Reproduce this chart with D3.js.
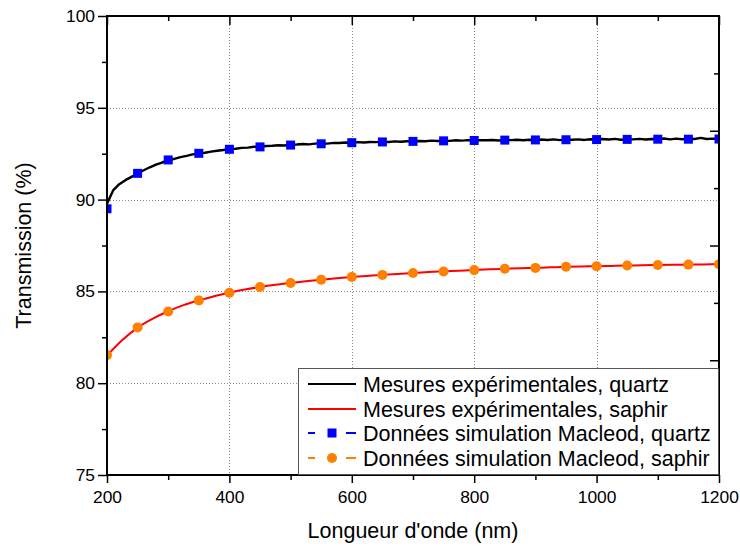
<!DOCTYPE html>
<html><head><meta charset="utf-8">
<script src="https://cdn.jsdelivr.net/npm/d3@7"></script>
<style>
html,body{margin:0;padding:0;background:#fff;}
svg{display:block;font-family:Arial,"Liberation Sans",sans-serif;}
</style></head>
<body>
<svg id="chart" width="740" height="549"></svg>
<script>
// ---- data ----
const xTicks = [200, 400, 600, 800, 1000, 1200];
const yTicks = [75, 80, 85, 90, 95, 100];
const legendLabels = [
  "Mesures expérimentales, quartz",
  "Mesures expérimentales, saphir",
  "Données simulation Macleod, quartz",
  "Données simulation Macleod, saphir"
];
// measured quartz (every 10 nm from 200 to 1200)
const quartzExpX = d3.range(200, 1201, 10);
const quartzExpY = [
  89.78, 90.50, 90.84, 91.06, 91.24, 91.42, 91.60, 91.76, 91.90, 92.02,
  92.13, 92.22, 92.31, 92.38, 92.46, 92.52, 92.55, 92.61, 92.66, 92.70,
  92.76, 92.77, 92.82, 92.83, 92.88, 92.88, 92.92, 92.93, 92.96, 92.95,
  92.99, 93.00, 93.03, 93.01, 93.05, 93.06, 93.05, 93.09, 93.08, 93.11,
  93.10, 93.13, 93.11, 93.14, 93.13, 93.16, 93.14, 93.17, 93.15, 93.18,
  93.17, 93.19, 93.18, 93.21, 93.19, 93.21, 93.20, 93.23, 93.21, 93.24,
  93.22, 93.24, 93.23, 93.25, 93.22, 93.25, 93.24, 93.26, 93.23, 93.26,
  93.24, 93.27, 93.25, 93.28, 93.24, 93.27, 93.26, 93.28, 93.25, 93.29,
  93.27, 93.30, 93.27, 93.31, 93.26, 93.29, 93.28, 93.31, 93.27, 93.30,
  93.29, 93.33, 93.28, 93.32, 93.29, 93.31, 93.30, 93.36, 93.30, 93.32,
  93.31
];
// measured sapphire (every 25 nm)
const saphirExpX = d3.range(200, 1201, 25);
const saphirExpY = [
  81.50, 82.35, 83.03, 83.52, 83.92, 84.25, 84.51, 84.74, 84.93, 85.10,
  85.24, 85.36, 85.46, 85.55, 85.63, 85.71, 85.78, 85.84, 85.90, 85.95,
  86.00, 86.05, 86.09, 86.13, 86.17, 86.20, 86.23, 86.26, 86.28, 86.31,
  86.34, 86.36, 86.37, 86.39, 86.41, 86.43, 86.44, 86.45, 86.46, 86.47,
  86.49
];
// Macleod simulations (every 50 nm)
const simX = d3.range(200, 1201, 50);
const quartzSimY = [
  89.50, 91.43, 92.16, 92.52, 92.74, 92.87, 92.97, 93.04, 93.10, 93.14,
  93.17, 93.20, 93.22, 93.24, 93.25, 93.26, 93.27, 93.28, 93.29, 93.29, 93.30
];
const saphirSimY = [
  81.53, 83.04, 83.91, 84.51, 84.93, 85.24, 85.46, 85.64, 85.79, 85.90,
  86.00, 86.08, 86.16, 86.23, 86.28, 86.34, 86.37, 86.41, 86.44, 86.46, 86.48
];

// ---- layout ----
const L = 107, R = 719, T = 16, B = 475;
const svg = d3.select("#chart");
const x = d3.scaleLinear().domain([200, 1200]).range([L, R]);
const y = d3.scaleLinear().domain([75, 100]).range([B, T]);
const yRight = d3.scaleLinear().domain([0, 4]).range([B, T]);

const xMinor = d3.range(300, 1200, 200);
const yMinor = d3.range(77.5, 100, 5);

// grid
const grid = svg.append("g").attr("stroke", "#8a8a8a").attr("stroke-width", 1).attr("stroke-dasharray", "1,2");
grid.selectAll("line.v").data(xTicks.slice(1, -1)).join("line")
  .attr("x1", d => Math.round(x(d)) + 0.5).attr("x2", d => Math.round(x(d)) + 0.5)
  .attr("y1", T).attr("y2", B);
grid.selectAll("line.h").data(yTicks.slice(1, -1)).join("line")
  .attr("y1", d => Math.round(y(d)) + 0.5).attr("y2", d => Math.round(y(d)) + 0.5)
  .attr("x1", L).attr("x2", R);

// curves
svg.append("defs").append("clipPath").attr("id", "clip")
  .append("rect").attr("x", L).attr("y", T).attr("width", R - L).attr("height", B - T);
const plot = svg.append("g").attr("clip-path", "url(#clip)");

plot.append("path").datum(saphirExpX.map((v, i) => [v, saphirExpY[i]]))
  .attr("d", d3.line().x(d => x(d[0])).y(d => y(d[1])).curve(d3.curveMonotoneX)).attr("fill", "none")
  .attr("stroke", "#ff0000").attr("stroke-width", 2);
plot.append("path").datum(quartzExpX.map((v, i) => [v, quartzExpY[i]]))
  .attr("d", d3.line().x(d => x(d[0])).y(d => y(d[1]))).attr("fill", "none")
  .attr("stroke", "#000").attr("stroke-width", 2.4).attr("stroke-linejoin", "round");

const sq = 9;
plot.selectAll("rect.qs").data(simX.map((v, i) => [v, quartzSimY[i]])).join("rect")
  .attr("x", d => x(d[0]) - sq / 2).attr("y", d => y(d[1]) - sq / 2)
  .attr("width", sq).attr("height", sq).attr("fill", "#0000ff");
plot.selectAll("circle.ss").data(simX.map((v, i) => [v, saphirSimY[i]])).join("circle")
  .attr("cx", d => x(d[0])).attr("cy", d => y(d[1])).attr("r", 5)
  .attr("fill", "#ff8000");

// axes
const axStyle = g => { g.select(".domain").remove(); g.selectAll("line").attr("stroke", "#000").attr("stroke-width", 1.5); };
const fontTick = "17.4px";

svg.append("g").attr("transform", `translate(0,${B})`)
  .call(d3.axisBottom(x).tickValues(xTicks).tickSize(8).tickPadding(8).tickFormat(d3.format("d")))
  .call(axStyle)
  .call(g => g.selectAll("text").attr("font-size", fontTick).attr("font-family", "Arial, 'Liberation Sans', sans-serif").attr("fill", "#000"));
svg.append("g").attr("transform", `translate(0,${B})`)
  .call(d3.axisBottom(x).tickValues(xMinor).tickSize(5).tickFormat(""))
  .call(axStyle);
svg.append("g").attr("transform", `translate(0,${T})`)
  .call(d3.axisBottom(x).tickValues(xTicks).tickSize(9).tickFormat(""))
  .call(axStyle);
svg.append("g").attr("transform", `translate(0,${T})`)
  .call(d3.axisBottom(x).tickValues(xMinor).tickSize(5).tickFormat(""))
  .call(axStyle);

svg.append("g").attr("transform", `translate(${L},0)`)
  .call(d3.axisLeft(y).tickValues(yTicks).tickSize(9).tickPadding(3).tickFormat(d3.format("d")))
  .call(axStyle)
  .call(g => g.selectAll("text").attr("font-size", fontTick).attr("font-family", "Arial, 'Liberation Sans', sans-serif").attr("fill", "#000"));
svg.append("g").attr("transform", `translate(${L},0)`)
  .call(d3.axisLeft(y).tickValues(yMinor).tickSize(5).tickFormat(""))
  .call(axStyle);

svg.append("g").attr("transform", `translate(${R},0)`)
  .call(d3.axisLeft(yRight).tickValues([1, 2, 3]).tickSize(9).tickFormat(""))
  .call(axStyle);
svg.append("g").attr("transform", `translate(${R},0)`)
  .call(d3.axisLeft(yRight).tickValues([0.5, 1.5, 2.5, 3.5]).tickSize(5).tickFormat(""))
  .call(axStyle);

// frame
svg.append("rect").attr("x", L).attr("y", T).attr("width", R - L).attr("height", B - T)
  .attr("fill", "none").attr("stroke", "#000").attr("stroke-width", 2);

// legend
const lg = svg.append("g");
lg.append("rect").attr("x", 298.5).attr("y", 368.5).attr("width", 420).attr("height", 106)
  .attr("fill", "#fff").attr("stroke", "#555").attr("stroke-width", 1);
const rowY = [384, 409, 433, 458];
const colors = ["#000", "#ff0000", "#0000ff", "#ff8000"];
legendLabels.forEach((lab, i) => {
  const yy = rowY[i];
  if (i < 2) {
    lg.append("line").attr("x1", 308).attr("x2", 356).attr("y1", yy).attr("y2", yy)
      .attr("stroke", colors[i]).attr("stroke-width", 2);
  } else {
    [[308, 315], [346, 356]].forEach(s => lg.append("line").attr("x1", s[0]).attr("x2", s[1])
      .attr("y1", yy).attr("y2", yy).attr("stroke", colors[i]).attr("stroke-width", 2));
    if (i === 2) lg.append("rect").attr("x", 332 - 4.5).attr("y", yy - 4.5).attr("width", 9).attr("height", 9).attr("fill", colors[i]);
    else lg.append("circle").attr("cx", 332).attr("cy", yy).attr("r", 5).attr("fill", colors[i]);
  }
  lg.append("text").attr("x", 363).attr("y", yy).attr("dy", "0.36em")
    .attr("font-size", "21.5px").attr("fill", "#000").text(lab);
});

// axis titles
svg.append("text").attr("x", (L + R) / 2).attr("y", 538).attr("text-anchor", "middle")
  .attr("font-size", "21.5px").attr("fill", "#000").text("Longueur d'onde (nm)");
svg.append("text").attr("transform", `translate(31,${(T + B) / 2}) rotate(-90)`)
  .attr("text-anchor", "middle").attr("font-size", "21.5px").attr("fill", "#000").text("Transmission (%)");
</script>
</body></html>
